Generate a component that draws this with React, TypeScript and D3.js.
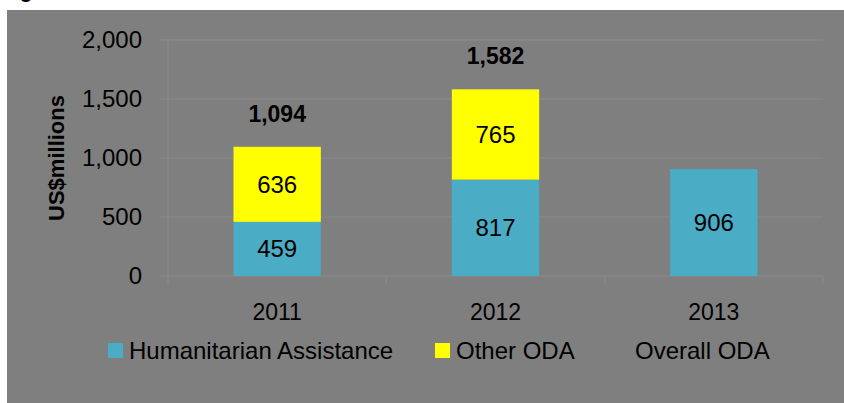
import React from 'react';
import * as d3 from 'd3';

// データ (US$ millions)
const years = ['2011', '2012', '2013'];
const humanitarian = [459, 817, 906];
const otherOda = [636, 765, 0];
const totals = [1094, 1582, null];
const yTicks = [0, 500, 1000, 1500, 2000];
const legendItems = ['Humanitarian Assistance', 'Other ODA', 'Overall ODA'];

const W = 844;
const H = 403;
const BG = '#7f7f7f';
const GRID = '#878787';
const TEAL = '#4bacc6';
const YELLOW = '#ffff00';
const FONT = '"Liberation Sans", Arial, sans-serif';

const App = () => {
  const x = d3.scaleBand().domain(years).range([168, 823]).paddingInner(0.6).paddingOuter(0.3);
  const y = d3.scaleLinear().domain([0, 2000]).range([276, 40]);
  const bw = x.bandwidth();

  const legendColors = [TEAL, YELLOW, BG];
  // 凡例の位置 (左端のx)
  const legendX = [108, 435, 614];

  return (
    <div style={{ position: 'fixed', left: 0, top: 0 }}>
      <svg width={W} height={H} style={{ display: 'block', background: '#fff' }}>
        {/* タイトルの切れ端 */}
        <text x={20} y={-2} fontFamily={FONT} fontSize={20} fontWeight="bold" fill="#000">g</text>
        <rect x={7} y={10} width={W - 7} height={H - 10} fill={BG} />

        {/* グリッド線 */}
        {yTicks.map(t => (
          <line key={t} x1={160} x2={823} y1={y(t)} y2={y(t)} stroke={GRID} strokeWidth={1.5} />
        ))}
        <line x1={168} x2={168} y1={y(2000)} y2={y(0)} stroke={GRID} strokeWidth={1.5} />
        {[168, ...years.map(d => (x(d) as number) + bw / 2 + x.step() / 2)].map((px, i) => (
          <line key={i} x1={px} x2={px} y1={y(0)} y2={y(0) + 8} stroke={GRID} strokeWidth={1.5} />
        ))}

        {/* Y軸ラベル */}
        {yTicks.map(t => (
          <text key={t} x={142} y={y(t)} dy="0.35em" textAnchor="end" fontFamily={FONT} fontSize={24} fill="#000">
            {d3.format(',')(t)}
          </text>
        ))}
        <text transform={`translate(64,158) rotate(-90)`} textAnchor="middle" fontFamily={FONT} fontSize={22} fontWeight="bold" fill="#000">
          US$millions
        </text>

        {/* 棒 */}
        {years.map((yr, i) => {
          const bx = x(yr) as number;
          const h0 = humanitarian[i];
          const o = otherOda[i];
          return (
            <g key={yr}>
              <rect x={bx} y={y(h0)} width={bw} height={y(0) - y(h0)} fill={TEAL} />
              <text x={bx + bw / 2} y={(y(0) + y(h0)) / 2} dy="0.35em" textAnchor="middle" fontFamily={FONT} fontSize={24} fill="#000">
                {h0}
              </text>
              {o > 0 && (
                <>
                  <rect x={bx} y={y(h0 + o)} width={bw} height={y(h0) - y(h0 + o)} fill={YELLOW} />
                  <text x={bx + bw / 2} y={(y(h0) + y(h0 + o)) / 2} dy="0.35em" textAnchor="middle" fontFamily={FONT} fontSize={24} fill="#000">
                    {o}
                  </text>
                </>
              )}
              {totals[i] !== null && (
                <text x={bx + bw / 2} y={y(totals[i] as number) - 33} dy="0.35em" textAnchor="middle" fontFamily={FONT} fontSize={23} fontWeight="bold" fill="#000">
                  {d3.format(',')(totals[i] as number)}
                </text>
              )}
              <text x={bx + bw / 2} y={312} dy="0.35em" textAnchor="middle" fontFamily={FONT} fontSize={23} fill="#000">
                {yr}
              </text>
            </g>
          );
        })}

        {/* 凡例 */}
        {legendItems.map((name, i) => (
          <g key={name}>
            <rect x={legendX[i]} y={343} width={15} height={15} fill={legendColors[i]} />
            <text x={legendX[i] + 21} y={351} dy="0.35em" fontFamily={FONT} fontSize={24} fill="#000">
              {name}
            </text>
          </g>
        ))}
      </svg>
    </div>
  );
};

export default App;
